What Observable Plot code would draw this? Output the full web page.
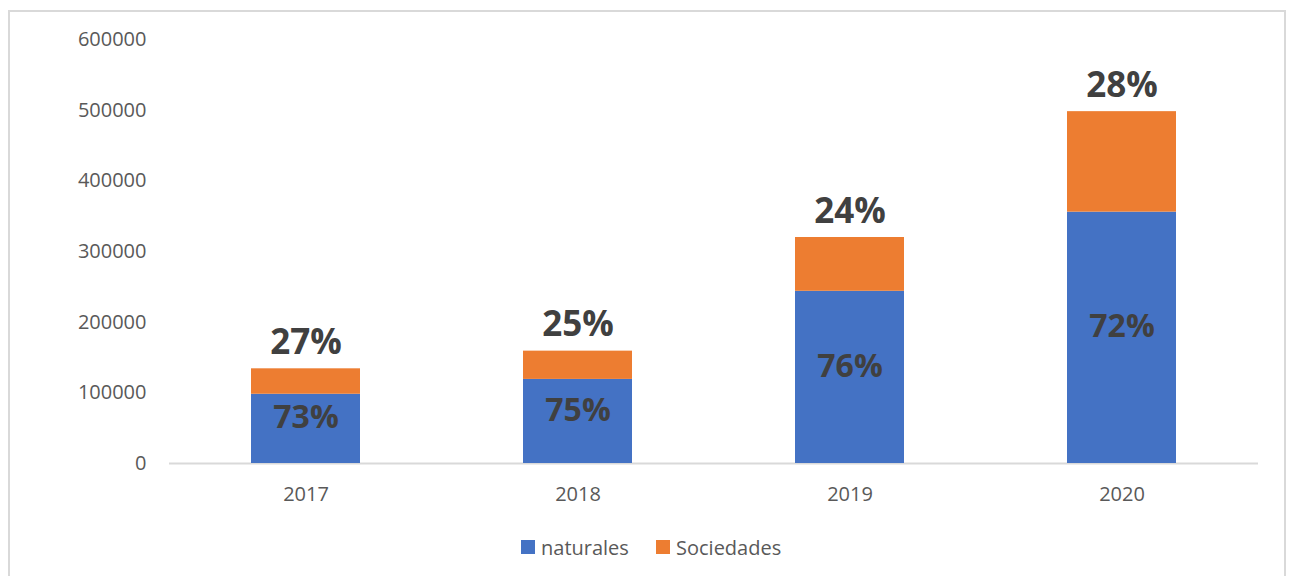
<!DOCTYPE html>
<html>
<head>
<meta charset="utf-8">
<script src="https://cdn.jsdelivr.net/npm/d3@7"></script>
<script src="https://cdn.jsdelivr.net/npm/@observablehq/plot@0.6"></script>
<style>
  html, body { margin: 0; padding: 0; background: #fff; width: 1291px; height: 576px; overflow: hidden; }
  #frame { position: absolute; left: 8px; top: 10px; width: 1278px; height: 600px; border: 2px solid #d9d9d9; box-sizing: border-box; }
  #chart { position: absolute; left: 0; top: 0; }
  #legend { position: absolute; left: 0; top: 534px; width: 1291px; height: 26px; font-family: "Open Sans", sans-serif; font-size: 20px; color: #595959; }
  .item { position: absolute; top: 0; display: flex; align-items: center; height: 26px; }
  .sw { width: 14px; height: 14px; margin-right: 6px; }
</style>
</head>
<body>
<div id="frame"></div>
<div id="chart"></div>
<div id="legend"></div>
<script>
const years = ["2017", "2018", "2019", "2020"];
const series = ["naturales", "Sociedades"];
const naturales = [98000, 119000, 243700, 355700];
const sociedades = [36000, 40000, 76100, 142200];
const pctNaturales = ["73%", "75%", "76%", "72%"];
const pctSociedades = ["27%", "25%", "24%", "28%"];
const yTicks = [0, 100000, 200000, 300000, 400000, 500000, 600000];
const colors = ["#4472C4", "#ED7D31"];

const table = [];
years.forEach((yr, i) => {
  table.push({year: yr, series: series[0], value: naturales[i], pct: pctNaturales[i]});
  table.push({year: yr, series: series[1], value: sociedades[i], pct: pctSociedades[i]});
});
const totals = years.map((yr, i) => ({year: yr, total: naturales[i] + sociedades[i], pct: pctSociedades[i]}));
const natRows = table.filter(d => d.series === series[0]);

const chart = Plot.plot({
  width: 1291,
  height: 520,
  marginLeft: 169,
  marginRight: 33,
  marginTop: 39,
  marginBottom: 57,
  style: {fontFamily: "'Open Sans', sans-serif", fontSize: "20px", color: "#595959", background: "transparent"},
  x: {domain: years, paddingInner: 0.6, paddingOuter: 0.3, label: null, tickSize: 0, tickPadding: 23},
  y: {domain: [0, 600000], ticks: yTicks, tickFormat: d => String(d), label: null, tickSize: 0, tickPadding: 23},
  color: {domain: series, range: colors},
  marks: [
    Plot.ruleY([0], {stroke: "#d9d9d9", strokeWidth: 2}),
    Plot.barY(table, {x: "year", y: "value", fill: "series", order: series}),
    Plot.text(natRows, {x: "year", y: d => d.value / 2, text: "pct", dy: -11, fontSize: 32, fontWeight: "bold", fill: "#404040"}),
    Plot.text(totals, {x: "year", y: "total", text: "pct", dy: -26, fontSize: 35, fontWeight: "bold", fill: "#404040"})
  ]
});
document.getElementById("chart").appendChild(chart);

const legend = document.getElementById("legend");
const lefts = [521, 656];
series.forEach((s, i) => {
  const it = document.createElement("div");
  it.className = "item";
  it.style.left = lefts[i] + "px";
  const sw = document.createElement("div");
  sw.className = "sw";
  sw.style.background = colors[i];
  const t = document.createElement("span");
  t.textContent = s;
  it.appendChild(sw);
  it.appendChild(t);
  legend.appendChild(it);
});
</script>
</body>
</html>
